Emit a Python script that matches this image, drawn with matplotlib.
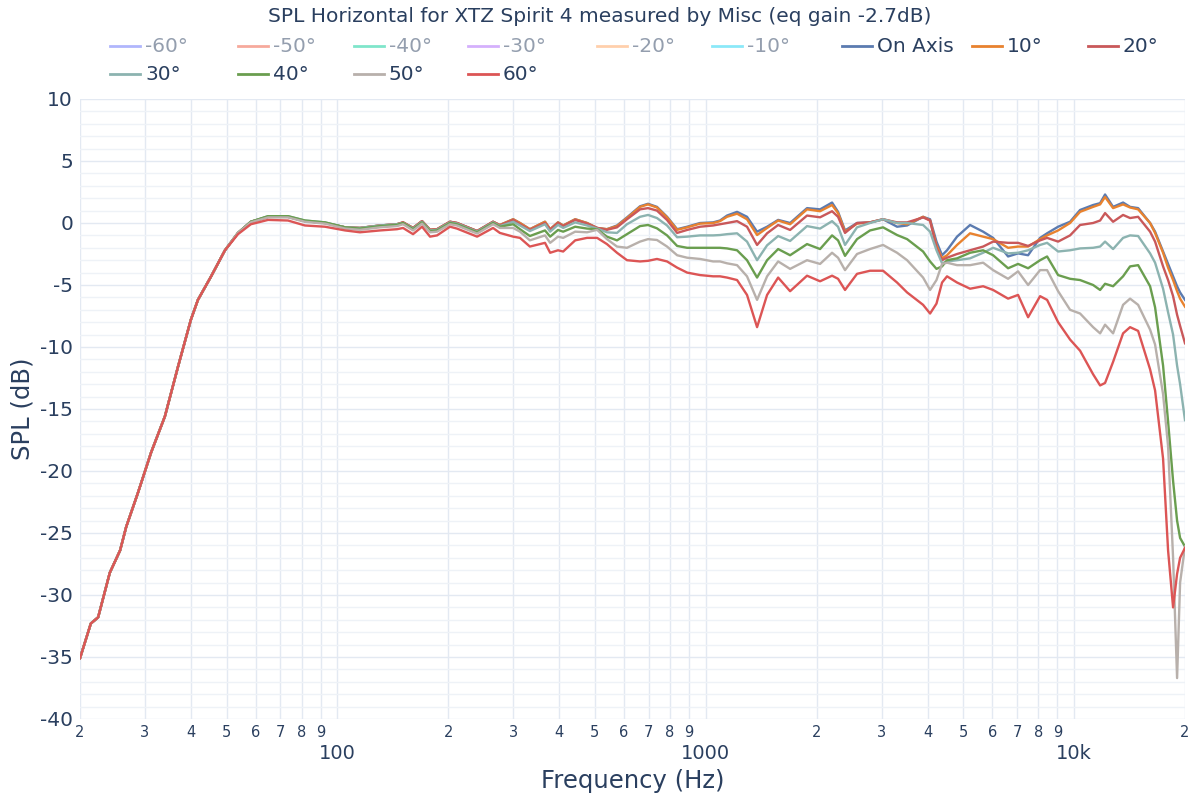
import matplotlib
matplotlib.use("Agg")
import matplotlib.pyplot as plt
from matplotlib.lines import Line2D

# -------------------------
# DATOS
# -------------------------
title = "SPL Horizontal for XTZ Spirit 4 measured by Misc (eq gain -2.7dB)"

# zona baja: todas las curvas coinciden
freq_common = [20, 21.4, 22.4, 24.1, 25.7, 26.7, 28.7, 31.2, 34.0, 36.9, 40.0, 41.8, 45.4, 49.5]
spl_common = [-35.1, -32.3, -31.8, -28.2, -26.4, -24.5, -21.8, -18.5, -15.6, -11.6, -7.8, -6.2, -4.3, -2.2]

freq_main = [53.7, 58.2, 64.8, 73.4, 81.6, 92.5, 104.9, 115.1, 130.5, 145.1,
             150.7, 160.4, 169.7, 178.4, 186.4, 202.1, 211.1, 239.4, 264.5,
             276, 300, 313, 333, 366, 378, 397, 410, 442, 476,
             507, 539, 574, 611, 663, 697, 737, 785, 836, 890,
             965, 1047, 1093, 1142, 1216, 1294, 1378, 1467, 1572, 1694,
             1883, 2043, 2202, 2286, 2388, 2574, 2792, 3029, 3306, 3520,
             3890, 4064, 4230, 4380, 4518, 4810, 5218, 5662, 6026, 6618,
             7044, 7500, 8084, 8446, 9048, 9750, 10380, 11260, 11764, 12134,
             12758, 13580, 14188, 14920, 16078, 16588, 17438, 17992, 18564, 19034,
             19396, 20000]

spl_on_axis = [-0.8, 0.1, 0.5, 0.5, 0.15, 0.0, -0.35, -0.4, -0.2, -0.1,
               0.05, -0.4, 0.15, -0.55, -0.5, 0.1, 0.0, -0.65, 0.1,
               -0.16, 0.3, 0.0, -0.5, 0.1, -0.5, 0.05, -0.2, 0.3, 0.0,
               -0.4, -0.5, -0.2, 0.45, 1.35, 1.55, 1.3, 0.5, -0.5, -0.3,
               0.0, 0.05, 0.2, 0.6, 0.9, 0.5, -0.7, -0.3, 0.25, 0.0,
               1.2, 1.1, 1.65, 0.9, -0.6, 0.0, 0.05, 0.3, -0.3, -0.2,
               0.5, 0.3, -1.5, -2.6, -2.2, -1.1, -0.16, -0.7, -1.2, -2.7,
               -2.45, -2.6, -1.2, -0.83, -0.3, 0.1, 1.05, 1.45, 1.6, 2.3,
               1.3, 1.65, 1.3, 1.2, 0.0, -0.7, -2.3, -3.3, -4.3, -5.1,
               -5.6, -6.2]

spl_10 = [-0.8, 0.1, 0.5, 0.5, 0.15, 0.0, -0.35, -0.4, -0.2, -0.1,
          0.05, -0.4, 0.15, -0.55, -0.5, 0.1, 0.0, -0.65, 0.1,
          -0.16, 0.3, 0.0, -0.5, 0.1, -0.5, 0.05, -0.2, 0.3, 0.0,
          -0.4, -0.5, -0.25, 0.4, 1.3, 1.5, 1.25, 0.45, -0.55, -0.35,
          -0.05, 0.0, 0.15, 0.5, 0.75, 0.3, -0.97, -0.4, 0.2, -0.1,
          1.1, 0.95, 1.45, 0.8, -0.7, -0.05, 0.05, 0.3, 0.0, -0.1,
          0.5, 0.2, -1.8, -2.85, -2.6, -1.77, -0.83, -1.1, -1.3, -2.0,
          -1.9, -1.9, -1.3, -1.0, -0.6, 0.0, 0.9, 1.3, 1.5, 2.1,
          1.2, 1.5, 1.25, 1.1, 0.0, -0.8, -2.4, -3.6, -4.6, -5.5,
          -6.1, -6.75]

spl_20 = [-0.8, 0.1, 0.5, 0.5, 0.15, 0.0, -0.35, -0.4, -0.2, -0.1,
          0.05, -0.4, 0.15, -0.55, -0.5, 0.1, 0.0, -0.65, 0.1,
          -0.2, 0.25, -0.1, -0.55, 0.0, -0.55, 0.0, -0.25, 0.25, -0.05,
          -0.4, -0.55, -0.35, 0.3, 1.1, 1.2, 1.0, 0.24, -0.8, -0.56,
          -0.3, -0.2, -0.1, 0.0, 0.15, -0.3, -1.77, -0.83, -0.16, -0.56,
          0.6, 0.46, 0.95, 0.5, -0.8, 0.0, 0.05, 0.3, 0.05, 0.05,
          0.45, 0.2, -2.0, -3.0, -2.8, -2.5, -2.2, -1.9, -1.5, -1.6,
          -1.6, -1.85, -1.4, -1.2, -1.5, -1.0, -0.16, 0.0, 0.2, 0.8,
          0.1, 0.65, 0.4, 0.5, -0.7, -1.5, -3.5, -4.6, -5.9, -7.4,
          -8.3, -9.7]

spl_30 = [-0.8, 0.1, 0.55, 0.55, 0.2, 0.05, -0.35, -0.4, -0.2, -0.1,
          0.0, -0.45, 0.1, -0.6, -0.55, 0.05, -0.05, -0.7, 0.05,
          -0.25, 0.1, -0.2, -0.65, -0.1, -0.7, -0.15, -0.4, 0.05, -0.2,
          -0.45, -0.75, -0.8, -0.1, 0.5, 0.65, 0.4, -0.2, -1.15, -1.1,
          -1.0, -1.0, -0.97, -0.9, -0.83, -1.5, -3.0, -1.8, -1.05, -1.45,
          -0.25, -0.45, 0.15, -0.3, -1.77, -0.35, 0.0, 0.3, 0.0, 0.0,
          -0.16, -0.7, -2.2, -3.25, -3.1, -3.0, -2.85, -2.4, -2.0, -2.45,
          -2.4, -2.2, -1.77, -1.6, -2.3, -2.2, -2.05, -2.0, -1.9, -1.5,
          -2.1, -1.2, -1.0, -1.05, -2.45, -3.2, -5.3, -7.2, -9.0, -11.5,
          -13.0, -15.9]

spl_40 = [-0.8, 0.1, 0.55, 0.55, 0.2, 0.05, -0.35, -0.45, -0.25, -0.15,
          0.0, -0.5, 0.05, -0.65, -0.6, 0.0, -0.1, -0.75, 0.0,
          -0.3, -0.1, -0.5, -1.05, -0.6, -1.1, -0.56, -0.7, -0.3, -0.45,
          -0.5, -1.1, -1.4, -0.9, -0.25, -0.16, -0.43, -1.0, -1.85, -2.0,
          -2.0, -2.0, -2.0, -2.05, -2.2, -3.0, -4.4, -3.0, -2.1, -2.6,
          -1.7, -2.1, -1.0, -1.4, -2.65, -1.3, -0.6, -0.35, -0.97, -1.3,
          -2.3, -3.1, -3.7, -3.5, -3.0, -2.85, -2.4, -2.2, -2.6, -3.65,
          -3.3, -3.65, -3.0, -2.7, -4.2, -4.5, -4.6, -5.0, -5.4, -4.9,
          -5.1, -4.3, -3.5, -3.4, -5.1, -6.8, -11.5, -16.0, -20.8, -24.0,
          -25.4, -26.1]

spl_50 = [-0.8, 0.05, 0.45, 0.45, 0.1, -0.05, -0.45, -0.55, -0.35, -0.25,
          -0.1, -0.6, -0.05, -0.75, -0.7, -0.1, -0.2, -0.85, -0.1,
          -0.4, -0.4, -0.7, -1.4, -1.0, -1.6, -1.1, -1.2, -0.7, -0.75,
          -0.55, -1.3, -1.9, -2.0, -1.5, -1.3, -1.37, -1.9, -2.6, -2.8,
          -2.9, -3.1, -3.1, -3.25, -3.4, -4.3, -6.2, -4.3, -3.1, -3.7,
          -3.0, -3.3, -2.4, -2.8, -3.8, -2.5, -2.1, -1.77, -2.4, -3.0,
          -4.4, -5.4, -4.6, -3.3, -3.2, -3.4, -3.4, -3.2, -3.8, -4.5,
          -3.9, -5.0, -3.8, -3.8, -5.5, -7.0, -7.3, -8.4, -8.9, -8.2,
          -8.9, -6.6, -6.1, -6.6, -8.6, -9.8, -13.8, -18.0, -27.0, -36.7,
          -29.0, -26.1]

spl_60 = [-0.9, -0.1, 0.25, 0.2, -0.2, -0.3, -0.6, -0.75, -0.6, -0.5,
          -0.4, -0.9, -0.3, -1.1, -1.0, -0.3, -0.45, -1.1, -0.4,
          -0.8, -1.1, -1.2, -1.9, -1.6, -2.4, -2.2, -2.3, -1.4, -1.2,
          -1.2, -1.7, -2.4, -3.0, -3.1, -3.05, -2.9, -3.1, -3.6, -4.0,
          -4.2, -4.3, -4.3, -4.4, -4.6, -5.8, -8.4, -5.8, -4.4, -5.5,
          -4.25, -4.7, -4.25, -4.5, -5.4, -4.1, -3.85, -3.85, -4.8, -5.6,
          -6.6, -7.3, -6.5, -4.8, -4.3, -4.8, -5.3, -5.1, -5.4, -6.1,
          -5.8, -7.6, -5.9, -6.2, -8.0, -9.4, -10.3, -12.2, -13.1, -12.9,
          -11.2, -8.9, -8.4, -8.7, -11.8, -13.5, -19.0, -26.4, -31.0, -28.3,
          -27.0, -26.2]

# curvas ocultas (solo en la leyenda)
hidden_labels = ["-60°", "-50°", "-40°", "-30°", "-20°", "-10°"]
hidden_colors = ["#636efa", "#ef553b", "#00cc96", "#ab63fa", "#ffa15a", "#19d3f3"]

shown_labels = ["On Axis", "10°", "20°", "30°", "40°", "50°", "60°"]
shown_colors = ["#5b7bb0", "#e8822f", "#c9585a", "#8cb3b0", "#6a9e4f", "#b8b0ab", "#dc5555"]
shown_values = [spl_on_axis, spl_10, spl_20, spl_30, spl_40, spl_50, spl_60]

y_ticks = [-40, -35, -30, -25, -20, -15, -10, -5, 0, 5, 10]

# -------------------------
# GRAFICA
# -------------------------
text_color = "#2a3f5f"
plt.rcParams["font.family"] = ["DejaVu Sans"]

W, H = 1200, 800
fig = plt.figure(figsize=(12, 8), dpi=100)
ax = fig.add_axes([80 / W, 1 - 719 / H, 1105 / W, 620 / H])

freq_all = freq_common + freq_main
entries = []
for label, color in zip(hidden_labels, hidden_colors):
    entries.append((label, color, True))

for label, color, vals in zip(shown_labels, shown_colors, shown_values):
    ax.plot(freq_all, spl_common + vals, color=color, lw=1.7, label=label,
            solid_joinstyle="round")
    entries.append((label, color, False))

ax.set_xscale("log")
ax.set_xlim(20, 20000)
ax.set_ylim(-40, 10)

# ticks y
ax.set_yticks(y_ticks)
ax.set_yticklabels([str(v) for v in y_ticks])
ax.set_yticks(range(-40, 11), minor=True)

# ticks x: 100, 1000, 10k grandes; 2..9 pequenos
ax.set_xticks([100, 1000, 10000])
ax.set_xticklabels(["100", "1000", "10k"])
minor_x = [m * d for d in (10, 100, 1000) for m in range(2, 10)] + [20000]
ax.set_xticks(minor_x, minor=True)
ax.set_xticklabels([str(v)[0] for v in minor_x], minor=True)

ax.tick_params(axis="x", which="major", length=0, pad=18, labelsize=14, colors=text_color)
ax.tick_params(axis="x", which="minor", length=0, pad=4, labelsize=10.5, colors=text_color)
ax.tick_params(axis="y", which="both", length=0, pad=5, labelsize=14.5, colors=text_color)

ax.grid(True, which="major", color="#e3e9f2", lw=1)
ax.grid(True, which="minor", axis="x", color="#e3e9f2", lw=1)
ax.grid(True, which="minor", axis="y", color="#eef2f7", lw=1)
ax.set_axisbelow(True)
for s in ax.spines.values():
    s.set_visible(False)

ax.set_xlabel("Frequency (Hz)", fontsize=17.5, color=text_color, labelpad=4)
ax.set_ylabel("SPL (dB)", fontsize=17.5, color=text_color, labelpad=4)

fig.text(0.5, 1 - 16 / H, title, ha="center", va="center", fontsize=14.5, color=text_color)

# leyenda manual en 2 filas (como plotly)
col_x = [110, 238, 354, 468, 597, 712, 842, 972, 1088]
row_y = [46, 74]
for i, (label, color, hidden) in enumerate(entries):
    r, c = divmod(i, len(col_x))
    x0 = col_x[c] / W
    y0 = 1 - row_y[r] / H
    a = 0.5 if hidden else 1.0
    fig.add_artist(Line2D([x0, x0 + 30 / W], [y0, y0], color=color, lw=2, alpha=a,
                          transform=fig.transFigure))
    fig.text(x0 + 35 / W, y0, label, ha="left", va="center", fontsize=14.5,
             color=text_color, alpha=a)

plt.savefig("out.png")
